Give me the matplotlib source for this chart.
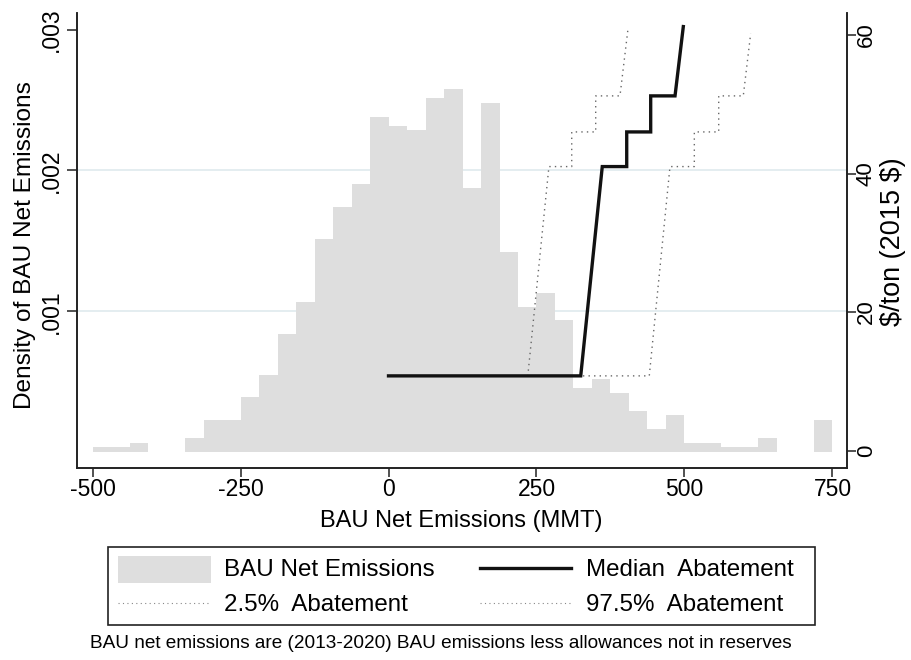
import matplotlib
matplotlib.use("Agg")
import matplotlib.pyplot as plt
from matplotlib.patches import Rectangle
from matplotlib.lines import Line2D

plt.rcParams['font.family'] = ['Liberation Sans', 'DejaVu Sans']

# histogram of BAU net emissions (density per MMT), 40 bins starting at -500
bin_start = -500
bin_width = 31.25
density = [0.038, 0.038, 0.066, 0.0, 0.0, 0.097, 0.227, 0.227, 0.388, 0.549,
           0.838, 1.067, 1.513, 1.742, 1.901, 2.381, 2.317, 2.287, 2.512, 2.576,
           1.873, 2.477, 1.418, 1.032, 1.131, 0.938, 0.452, 0.518, 0.421, 0.291,
           0.163, 0.261, 0.066, 0.066, 0.033, 0.033, 0.097, 0.0, 0.0, 0.227]
density = [d * 1e-3 for d in density]

# abatement supply curves ($/ton, 2015 $)
median_x = [0, 324.7, 361.1, 402.4, 402.4, 442.9, 442.9, 484.0, 498.0]
median_p = [10.8, 10.8, 41.0, 41.0, 46.0, 46.0, 51.2, 51.2, 61.2]
low_x = [0, 235.3, 271.0, 309.5, 309.5, 350.0, 350.0, 391.0, 404.6]
low_p = [10.8, 10.8, 41.0, 41.0, 46.0, 46.0, 51.2, 51.2, 60.9]
high_x = [0, 440.5, 475.5, 516.6, 516.6, 557.8, 557.8, 599.3, 611.8]
high_p = [10.8, 10.8, 41.0, 41.0, 46.0, 46.0, 51.2, 51.2, 60.2]

x_ticks = [-500, -250, 0, 250, 500, 750]
dens_ticks = [0.001, 0.002, 0.003]
dens_labels = ['.001', '.002', '.003']
price_ticks = [0, 20, 40, 60]

W, H = 911, 660
BAR_COLOR = '#dedede'
GRID_COLOR = '#e2ecef'
DOT_STYLE = (0, (1, 3))
TICK_FS = 16.5


def px(x, y):
    return x / W, 1 - y / H


fig = plt.figure(figsize=(W / 100, H / 100), dpi=100)
ax = fig.add_axes([77 / W, 1 - 467.7 / H, (846.7 - 77) / W, (467.7 - 13) / H])

edges = [bin_start + i * bin_width for i in range(len(density))]
ax.bar(edges, density, width=bin_width, align='edge', color=BAR_COLOR,
       edgecolor='none', zorder=2)
for t in dens_ticks[:2]:
    ax.axhline(t, color=GRID_COLOR, lw=1.3, zorder=1)

ax.set_xlim(-526.2, 774.0)
ax.set_ylim(-0.1115e-3, 3.118e-3)
ax.set_xticks(x_ticks)
ax.set_xticklabels([str(v) for v in x_ticks], fontsize=TICK_FS)
ax.set_yticks(dens_ticks)
ax.set_yticklabels(dens_labels, fontsize=TICK_FS, rotation=90, va='center')
ax.tick_params(axis='x', length=6.5, width=1.1, pad=1, color='#222222')
ax.tick_params(axis='y', length=7, width=1.1, pad=3, color='#222222')
ax.spines['top'].set_visible(False)
for s in ['left', 'bottom', 'right']:
    ax.spines[s].set_linewidth(1.2)
    ax.spines[s].set_color('#222222')

ax2 = ax.twinx()
ax2.plot(low_x, low_p, color='#666666', lw=1.0, ls=DOT_STYLE, zorder=3)
ax2.plot(high_x, high_p, color='#666666', lw=1.0, ls=DOT_STYLE, zorder=3)
ax2.plot(median_x, median_p, color='#111111', lw=2.4, zorder=4,
         solid_joinstyle='miter')
ax2.set_ylim(-2.45, 63.16)
ax2.set_yticks(price_ticks)
ax2.set_yticklabels([str(v) for v in price_ticks], fontsize=TICK_FS - 0.5,
                    rotation=90, va='center')
ax2.tick_params(axis='y', length=6.5, width=1.1, pad=0, color='#222222')
ax2.spines['top'].set_visible(False)
for s in ['left', 'bottom', 'right']:
    ax2.spines[s].set_linewidth(1.2)
    ax2.spines[s].set_color('#222222')

# axis titles
fig.text(*px(25, 245), 'Density of BAU Net Emissions', rotation=90,
         ha='center', va='center', fontsize=17.6)
fig.text(*px(893, 242), r'\$/ton (2015 \$)', rotation=90,
         ha='center', va='center', fontsize=19.5)
fig.text(*px(461, 521), 'BAU Net Emissions (MMT)', ha='center', va='center',
         fontsize=17)

# legend, drawn in pixel space
lg = fig.add_axes([0, 0, 1, 1])
lg.set_xlim(0, W)
lg.set_ylim(H, 0)
lg.axis('off')
lg.add_patch(Rectangle((108.3, 546.7), 815.3 - 108.3, 625 - 546.7,
                       facecolor='white', edgecolor='#222222', lw=1.2))
lg.add_patch(Rectangle((117.7, 556), 93, 26.7, facecolor=BAR_COLOR,
                       edgecolor='none'))
lg.add_line(Line2D([480, 570.7], [568.3, 568.3], color='#111111', lw=2.4))
lg.add_line(Line2D([117.7, 210.7], [603.3, 603.3], color='#888888', lw=0.8,
                   ls=DOT_STYLE))
lg.add_line(Line2D([480, 570.7], [603.3, 603.3], color='#888888', lw=0.8,
                   ls=DOT_STYLE))
LEG_FS = 17.4
lg.text(224, 570, 'BAU Net Emissions', ha='left', va='center', fontsize=LEG_FS)
lg.text(586, 570, 'Median  Abatement', ha='left', va='center', fontsize=LEG_FS)
lg.text(224, 605, '2.5%  Abatement', ha='left', va='center', fontsize=LEG_FS)
lg.text(586, 605, '97.5%  Abatement', ha='left', va='center', fontsize=LEG_FS)

lg.text(90, 643, 'BAU net emissions are (2013-2020) BAU emissions less '
        'allowances not in reserves', ha='left', va='center', fontsize=13.7)

fig.savefig('out.png', dpi=100, facecolor='white')
